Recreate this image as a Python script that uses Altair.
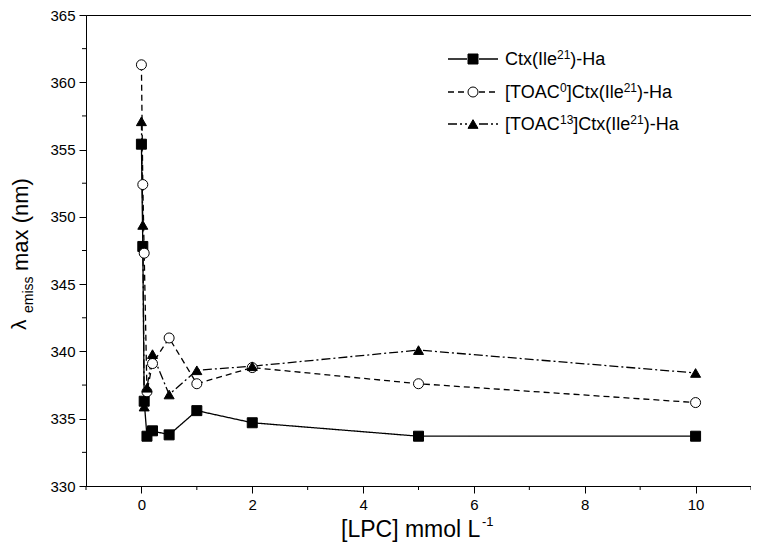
import altair as alt
import pandas as pd

# ---- data ----
lpc = [0, 0.025, 0.05, 0.1, 0.2, 0.5, 1, 2, 5, 10]
ctx = [355.4, 347.8, 336.3, 333.7, 334.1, 333.8, 335.6, 334.7, 333.7, 333.7]
toac0 = [361.3, 352.4, 347.3, 337.0, 339.1, 341.0, 337.6, 338.8, 337.6, 336.2]
toac13 = [357.1, 349.4, 335.9, 337.3, 339.8, 336.8, 338.6, 338.9, 340.1, 338.4]

series_names = ["Ctx(Ile21)-Ha", "[TOAC0]Ctx(Ile21)-Ha", "[TOAC13]Ctx(Ile21)-Ha"]
# legend label pieces: (text, is_superscript)
legend_pieces = [
    [("Ctx(Ile", False), ("21", True), (")-Ha", False)],
    [("[TOAC", False), ("0", True), ("]Ctx(Ile", False), ("21", True), (")-Ha", False)],
    [("[TOAC", False), ("13", True), ("]Ctx(Ile", False), ("21", True), (")-Ha", False)],
]
x_ticks = [0, 2, 4, 6, 8, 10]
x_minor = [-1, 1, 3, 5, 7, 9, 11]
y_ticks = [330, 335, 340, 345, 350, 355, 360, 365]
y_minor = [332.5, 337.5, 342.5, 347.5, 352.5, 357.5, 362.5]

rows = []
for name, vals in zip(series_names, [ctx, toac0, toac13]):
    for i, (x, y) in enumerate(zip(lpc, vals)):
        rows.append({"series": name, "lpc": x, "lam": y, "ord": i})
df = pd.DataFrame(rows)

FONT = "Liberation Sans"
W, H = 665, 471

dash_scale = alt.Scale(domain=series_names, range=[[1, 0], [6, 4], [9, 3, 2, 3]])
shape_scale = alt.Scale(domain=series_names, range=["square", "circle", "triangle-up"])
fill_scale = alt.Scale(domain=series_names, range=["black", "white", "black"])
size_scale = alt.Scale(domain=series_names, range=[100, 100, 135])
leg_size_scale = alt.Scale(domain=series_names, range=[55, 55, 75])

xs = alt.Scale(domain=[-1, 11], nice=False, zero=False)
ys = alt.Scale(domain=[330, 365], nice=False, zero=False)

base = alt.Chart(df)

lines = base.mark_line(color="black", strokeWidth=1.3).encode(
    x=alt.X("lpc:Q", scale=xs, title=None,
            axis=alt.Axis(values=x_ticks, format="d", tickSize=7, labelFontSize=15, labelFont=FONT,
                          labelColor="black", domainColor="black", tickColor="black",
                          labelPadding=4, grid=False)),
    y=alt.Y("lam:Q", scale=ys, title=None,
            axis=alt.Axis(values=y_ticks, format="d", tickSize=7, labelFontSize=15, labelFont=FONT,
                          labelColor="black", domainColor="black", tickColor="black",
                          labelPadding=4, grid=False)),
    strokeDash=alt.StrokeDash("series:N", scale=dash_scale, legend=None),
    detail="series:N",
    order="ord:Q",
)

points = base.mark_point(filled=True, stroke="black", strokeWidth=1, opacity=1).encode(
    x=alt.X("lpc:Q", scale=xs),
    y=alt.Y("lam:Q", scale=ys),
    shape=alt.Shape("series:N", scale=shape_scale, legend=None),
    fill=alt.Fill("series:N", scale=fill_scale, legend=None),
    size=alt.Size("series:N", scale=size_scale, legend=None),
)

# minor ticks
xminor = alt.Chart(pd.DataFrame({"v": x_minor})).mark_rule(color="black", strokeWidth=1).encode(
    x=alt.X("v:Q", scale=xs), y=alt.value(H), y2=alt.value(H + 4))
yminor = alt.Chart(pd.DataFrame({"v": y_minor})).mark_rule(color="black", strokeWidth=1).encode(
    y=alt.Y("v:Q", scale=ys), x=alt.value(0), x2=alt.value(-4))

# legend
leg_y = [44, 77, 109]
leg = pd.DataFrame({"series": series_names, "ly": leg_y})
leg_l = alt.Chart(leg).mark_rule(color="black", strokeWidth=1.3).encode(
    x=alt.value(362), x2=alt.value(381),
    y=alt.Y("ly:Q", scale=None),
    strokeDash=alt.StrokeDash("series:N", scale=dash_scale, legend=None),
)
leg_r = alt.Chart(leg).mark_rule(color="black", strokeWidth=1.3).encode(
    x=alt.value(393), x2=alt.value(412),
    y=alt.Y("ly:Q", scale=None),
    strokeDash=alt.StrokeDash("series:N", scale=dash_scale, legend=None),
)
leg_pt = alt.Chart(leg).mark_point(filled=True, stroke="black", strokeWidth=1, opacity=1).encode(
    x=alt.value(387),
    y=alt.Y("ly:Q", scale=None),
    shape=alt.Shape("series:N", scale=shape_scale, legend=None),
    fill=alt.Fill("series:N", scale=fill_scale, legend=None),
    size=alt.Size("series:N", scale=leg_size_scale, legend=None),
)

# legend text pieces, laid out with Arial/Liberation Sans advance widths
adv = {"C": .722, "t": .278, "x": .5, "(": .333, "I": .278, "l": .222, "e": .556, ")": .333,
       "-": .333, "H": .722, "a": .556, "[": .278, "]": .278, "T": .611, "O": .778, "A": .667,
       "0": .556, "1": .556, "2": .556, "3": .556}
BIG, SUP = 18, 12
piece_rows = []
for ly, pieces in zip(leg_y, legend_pieces):
    cx = 419
    for t, sup in pieces:
        fs = SUP if sup else BIG
        piece_rows.append({"t": t, "px": cx, "py": ly + (0 if sup else 6), "fs": fs})
        cx += sum(adv[c] for c in t) * fs
pieces_df = pd.DataFrame(piece_rows)
leg_big = alt.Chart(pieces_df[pieces_df.fs == BIG]).mark_text(
    align="left", baseline="alphabetic", font=FONT, fontSize=BIG, color="black").encode(
    x=alt.X("px:Q", scale=None), y=alt.Y("py:Q", scale=None), text="t:N")
leg_sup = alt.Chart(pieces_df[pieces_df.fs == SUP]).mark_text(
    align="left", baseline="alphabetic", font=FONT, fontSize=SUP, color="black").encode(
    x=alt.X("px:Q", scale=None), y=alt.Y("py:Q", scale=None), text="t:N")

# axis titles (manual, to allow sub/superscripts)
one = pd.DataFrame({"a": [0]})
def txt(t, x, y, size, angle=0):
    return alt.Chart(one).mark_text(align="left", baseline="alphabetic", font=FONT,
                                    fontSize=size, color="black", angle=angle).encode(
        x=alt.value(x), y=alt.value(y), text=alt.value(t))

titles = [
    txt("[LPC] mmol L", 255, 522, 23),
    txt("-1", 396, 511, 13),
    txt("λ", -60, 315, 21, 270),
    txt("emiss", -53, 298, 14, 270),
    txt("max (nm)", -58, 256, 22, 270),
]

chart = alt.layer(lines, points, xminor, yminor, leg_l, leg_r, leg_pt, leg_big, leg_sup,
                  *titles).properties(
    width=W, height=H,
    autosize=alt.AutoSizeParams(type="none"),
    padding={"left": 78, "top": 7, "right": 0, "bottom": 57},
).configure_view(stroke="black", strokeWidth=1).configure_axis(domainWidth=1, tickWidth=1)

chart.save("out.html", embed_options={"renderer": "svg", "actions": False})
